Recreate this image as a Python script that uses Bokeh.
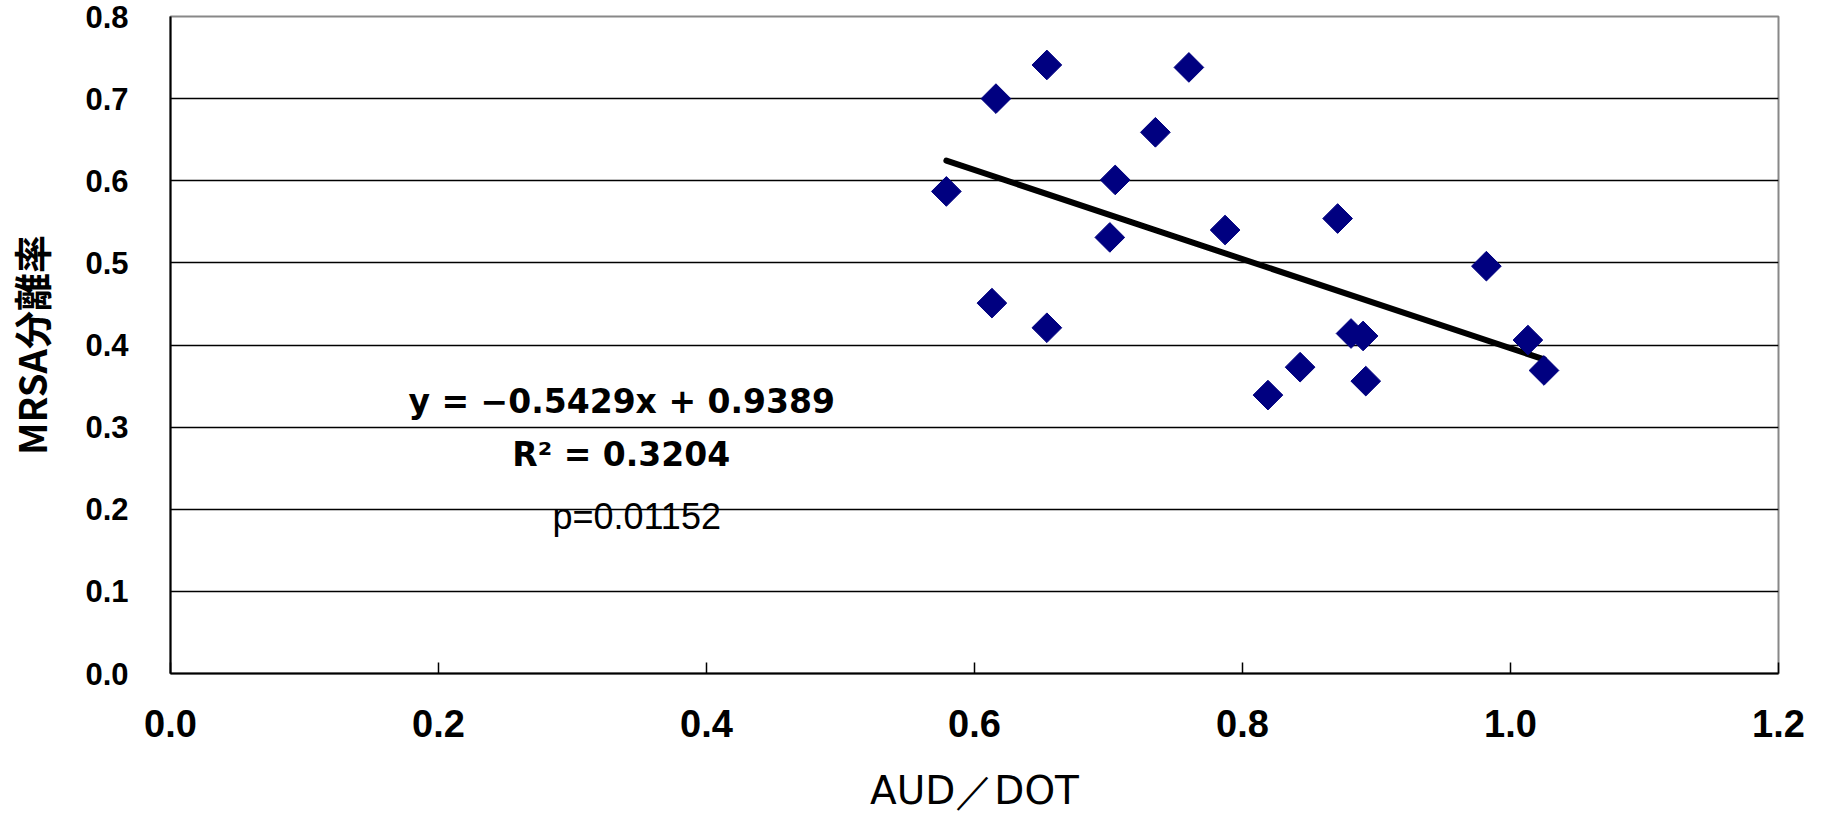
from bokeh.plotting import figure
from bokeh.models import Range1d, FixedTicker, Label, ColumnDataSource, NumeralTickFormatter
from bokeh.embed import file_html
from bokeh.resources import INLINE
import numpy as np

# ---- data ----
aud_dot = [0.579, 0.616, 0.654, 0.760, 0.735, 0.705, 0.701, 0.787, 0.871, 0.982,
           0.613, 0.654, 0.881, 0.890, 1.013, 1.025, 0.843, 0.819, 0.892]
mrsa_rate = [0.587, 0.700, 0.741, 0.738, 0.659, 0.601, 0.531, 0.540, 0.554, 0.496,
             0.451, 0.421, 0.414, 0.411, 0.406, 0.369, 0.373, 0.339, 0.356]
slope = -0.5429
intercept = 0.9389
r_squared = 0.3204
p_value = 0.01152
x_ticks = [0.0, 0.2, 0.4, 0.6, 0.8, 1.0, 1.2]
y_ticks = [0.0, 0.1, 0.2, 0.3, 0.4, 0.5, 0.6, 0.7, 0.8]
x_title = "AUD／DOT"
y_title = "MRSA分離率"

p = figure(width=1821, height=816, output_backend="svg", toolbar_location=None,
           x_range=Range1d(0, 1.2), y_range=Range1d(0, 0.8),
           min_border_left=169, min_border_right=43, min_border_top=16, min_border_bottom=143)
p.background_fill_color = "white"
p.border_fill_color = "white"
p.outline_line_color = "#888888"
p.outline_line_width = 2

# grid
p.xgrid.grid_line_color = None
p.ygrid.ticker = FixedTicker(ticks=y_ticks[1:-1])
p.ygrid.grid_line_color = "black"
p.ygrid.grid_line_width = 1.5

# x axis
xa = p.xaxis[0]
xa.ticker = FixedTicker(ticks=x_ticks)
xa.formatter = NumeralTickFormatter(format="0.0")
xa.axis_line_color = "black"
xa.axis_line_width = 2
xa.major_tick_in = 11
xa.major_tick_out = 0
xa.major_tick_line_width = 1.5
xa.major_tick_line_color = "black"
xa.minor_tick_line_color = None
xa.major_label_text_font = "Liberation Sans"
xa.major_label_text_font_style = "bold"
xa.major_label_text_font_size = "38px"
xa.major_label_text_color = "black"
xa.major_label_standoff = 36
xa.axis_label = x_title
xa.axis_label_text_font = "DejaVu Sans"
xa.axis_label_text_font_style = "normal"
xa.axis_label_text_font_size = "39px"
xa.axis_label_text_color = "black"
xa.axis_label_standoff = 28

# y axis
ya = p.yaxis[0]
ya.ticker = FixedTicker(ticks=y_ticks)
ya.formatter = NumeralTickFormatter(format="0.0")
ya.axis_line_color = "black"
ya.axis_line_width = 2
ya.major_tick_in = 0
ya.major_tick_out = 0
ya.minor_tick_line_color = None
ya.major_label_text_font = "Liberation Sans"
ya.major_label_text_font_style = "bold"
ya.major_label_text_font_size = "31px"
ya.major_label_text_color = "black"
ya.major_label_standoff = 42
ya.axis_label = y_title
ya.axis_label_text_font = "Noto Sans CJK JP"
ya.axis_label_text_font_style = "bold"
ya.axis_label_text_font_size = "38px"
ya.axis_label_text_color = "black"
ya.axis_label_standoff = 24

# trend line over the data's x extent
x_fit = np.array([min(aud_dot), max(aud_dot)])
y_fit = slope * x_fit + intercept
p.line(x_fit, y_fit, line_color="black", line_width=6, line_cap="round")

# scatter points (navy diamonds)
src = ColumnDataSource(dict(x=aud_dot, y=mrsa_rate))
p.scatter("x", "y", source=src, marker="square", size=21, angle=np.pi / 4,
          fill_color="#000080", line_color="#000080", line_width=1)

# annotations
eq_text = f"y = \u2212{abs(slope):.4f}x + {intercept:.4f}"
p.add_layout(Label(x=0.3367, y=0.331, text=eq_text, text_align="center",
                   text_baseline="alphabetic", text_font="DejaVu Sans",
                   text_font_style="bold", text_font_size="33px", text_color="black"))
p.add_layout(Label(x=0.3364, y=0.267, text=f"R\u00b2 = {r_squared:.4f}", text_align="center",
                   text_baseline="alphabetic", text_font="DejaVu Sans",
                   text_font_style="bold", text_font_size="33px", text_color="black"))
p.add_layout(Label(x=0.3479, y=0.191, text=f"p={p_value}", text_align="center",
                   text_baseline="alphabetic", text_font="Liberation Sans",
                   text_font_style="normal", text_font_size="36px", text_color="black"))

open("out.html", "w").write(file_html(p, INLINE))
